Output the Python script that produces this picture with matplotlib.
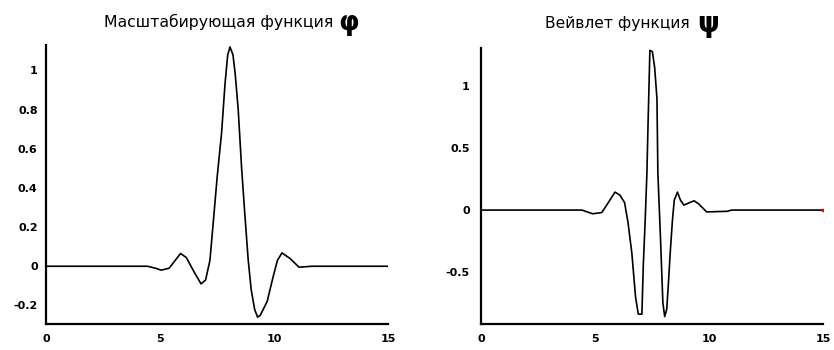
import matplotlib.pyplot as plt

# scaling function phi
phi_x = [0, 4.45, 4.8, 5.05, 5.4, 5.6, 5.9, 6.15, 6.5, 6.8, 7.0, 7.19, 7.34, 7.51, 7.7, 7.85,
         7.97, 8.07, 8.2, 8.3, 8.43, 8.58, 8.73, 8.87, 9.0, 9.15, 9.28, 9.4, 9.7, 9.97,
         10.15, 10.35, 10.7, 11.1, 11.65, 15]
phi_y = [0, 0, -0.01, -0.02, -0.01, 0.02, 0.065, 0.045, -0.03, -0.09, -0.07, 0.03, 0.23, 0.46, 0.68, 0.93,
         1.08, 1.12, 1.08, 0.98, 0.8, 0.5, 0.25, 0.03, -0.12, -0.22, -0.26, -0.25, -0.18, -0.05,
         0.03, 0.068, 0.04, -0.005, 0, 0]

# wavelet function psi
psi_x = [0, 4.43, 4.9, 5.3, 5.55, 5.88, 6.1, 6.3, 6.45, 6.62, 6.78, 6.9, 7.06, 7.12, 7.2, 7.28,
         7.33, 7.41, 7.52, 7.62, 7.72, 7.76, 7.88, 7.98, 8.06, 8.15, 8.22, 8.3, 8.4, 8.48,
         8.62, 8.75, 8.9, 9.15, 9.35, 9.55, 9.9, 10.8, 11.0, 15]
psi_y = [0, 0, -0.03, -0.02, 0.05, 0.145, 0.12, 0.06, -0.1, -0.35, -0.7, -0.84, -0.84, -0.45, -0.1, 0.3,
         0.7, 1.29, 1.28, 1.15, 0.9, 0.3, -0.25, -0.75, -0.86, -0.8, -0.6, -0.35, -0.08, 0.08,
         0.145, 0.08, 0.04, 0.06, 0.075, 0.05, -0.015, -0.01, 0, 0]

phi_ticks = [-0.2, 0, 0.2, 0.4, 0.6, 0.8, 1]
phi_labels = ['-0.2', '0', '0.2', '0.4', '0.6', '0.8', '1']
psi_ticks = [-0.5, 0, 0.5, 1]
psi_labels = ['-0.5', '0', '0.5', '1']
x_ticks = [0, 5, 10, 15]

fig = plt.figure(figsize=(8.34, 3.5), dpi=100)
ax1 = fig.add_axes([0.0552, 0.0743, 0.41, 0.797])
ax2 = fig.add_axes([0.5767, 0.0743, 0.41, 0.789])

def style(ax, yt, yl, ylim, ypad):
    ax.set_xlim(0, 15)
    ax.set_ylim(*ylim)
    for s in ['top', 'right']:
        ax.spines[s].set_visible(False)
    for s in ['left', 'bottom']:
        ax.spines[s].set_linewidth(1.6)
    ax.set_xticks(x_ticks)
    ax.set_xticklabels([str(t) for t in x_ticks], fontsize=8, fontweight='bold')
    ax.set_yticks(yt)
    ax.set_yticklabels(yl, fontsize=8, fontweight='bold')
    ax.tick_params(axis='x', length=0, pad=7)
    ax.tick_params(axis='y', length=0, pad=ypad)

ax1.plot(phi_x, phi_y, color='black', linewidth=1.2)
style(ax1, phi_ticks, phi_labels, (-0.295, 1.13), 6)

ax2.plot(psi_x, psi_y, color='black', linewidth=1.2)
ax2.plot(psi_x[-1], psi_y[-1], 's', color='red', markersize=1.5)
style(ax2, psi_ticks, psi_labels, (-0.92, 1.31), 8)

fig.text(333/834, 0.937, 'Масштабирующая функция', ha='right', va='center', fontsize=11.3)
fig.text(338/834, 0.934, 'φ', ha='left', va='center', fontsize=19, fontweight='bold')
fig.text(690/834, 0.934, 'Вейвлет функция', ha='right', va='center', fontsize=11.2)
fig.text(697/834, 0.930, 'ψ', ha='left', va='center', fontsize=20, fontweight='bold')

fig.savefig('out.png', dpi=100)
